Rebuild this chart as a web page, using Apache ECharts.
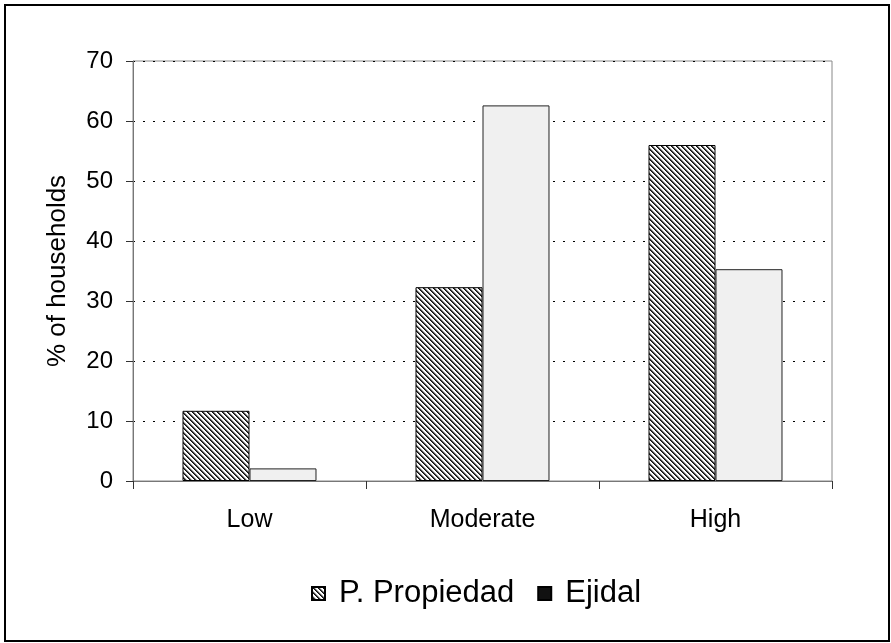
<!DOCTYPE html>
<html><head><meta charset="utf-8">
<script src="https://cdn.jsdelivr.net/npm/echarts@6/dist/echarts.min.js"></script>
<style>html,body{margin:0;padding:0;background:#fff}#c{width:891px;height:643px}</style>
</head><body><div id="c"></div>
<script>
const categories = ['Low', 'Moderate', 'High'];
const propiedad = [11.7, 32.3, 56.0];
const ejidal = [2.1, 62.6, 35.3];
const seriesNames = ['P. Propiedad', 'Ejidal'];
const yAxisTitle = '% of households';

function hatch() {
  const n = 5;
  const cv = document.createElement('canvas');
  cv.width = n; cv.height = n;
  const ctx = cv.getContext('2d');
  for (let y = 0; y < n; y++) {
    for (let x = 0; x < n; x++) {
      const k = ((x - y) % n + n) % n;
      ctx.fillStyle = k === 0 ? '#111' : (k === 1 ? '#444' : (k === 2 ? '#bbb' : '#fff'));
      ctx.fillRect(x, y, 1, 1);
    }
  }
  return cv;
}
const FONT = 'Liberation Sans, Arial, sans-serif';
const chart = echarts.init(document.getElementById('c'), null, {renderer: 'canvas'});
chart.setOption({
  animation: false,
  backgroundColor: '#fff',
  graphic: [{
    type: 'rect', silent: true,
    shape: {x: 5, y: 5, width: 884, height: 636},
    style: {fill: 'none', stroke: '#000', lineWidth: 2}
  }],
  grid: {left: 133, right: 59, top: 61, bottom: 162, show: true, borderColor: '#888', borderWidth: 1, backgroundColor: 'transparent'},
  legend: {
    left: 306, top: 573, itemWidth: 13, itemHeight: 13, itemGap: 23,
    icon: 'rect',
    textStyle: {fontFamily: FONT, fontSize: 31, color: '#000', padding: [0, 0, 0, 9]},
    data: [{name: seriesNames[0]}, {name: seriesNames[1], itemStyle: {color: '#111', borderColor: '#000'}}]
  },
  xAxis: {
    type: 'category', data: categories,
    axisLine: {lineStyle: {color: '#777', width: 1}},
    axisTick: {show: true, length: 8, lineStyle: {color: '#333'}},
    axisLabel: {fontFamily: FONT, fontSize: 25, color: '#000', margin: 27}
  },
  yAxis: {
    type: 'value', min: 0, max: 70, interval: 10,
    name: yAxisTitle, nameLocation: 'middle', nameGap: 62, nameRotate: 90,
    nameTextStyle: {fontFamily: FONT, fontSize: 26, color: '#000'},
    axisLine: {show: true, lineStyle: {color: '#777', width: 1}},
    axisTick: {show: true, length: 7, lineStyle: {color: '#333'}},
    axisLabel: {fontFamily: FONT, fontSize: 24, color: '#000', margin: 20},
    splitLine: {show: true, lineStyle: {color: '#000', type: [2, 8], width: 1}}
  },
  series: [
    {name: seriesNames[0], type: 'bar', data: propiedad, barGap: '0%', barCategoryGap: '42.5%',
     itemStyle: {color: {image: hatch(), repeat: 'repeat'}, borderColor: '#000', borderWidth: 1}},
    {name: seriesNames[1], type: 'bar', data: ejidal,
     itemStyle: {color: '#f0f0f0', borderColor: '#222', borderWidth: 1}}
  ]
});
</script></body></html>
